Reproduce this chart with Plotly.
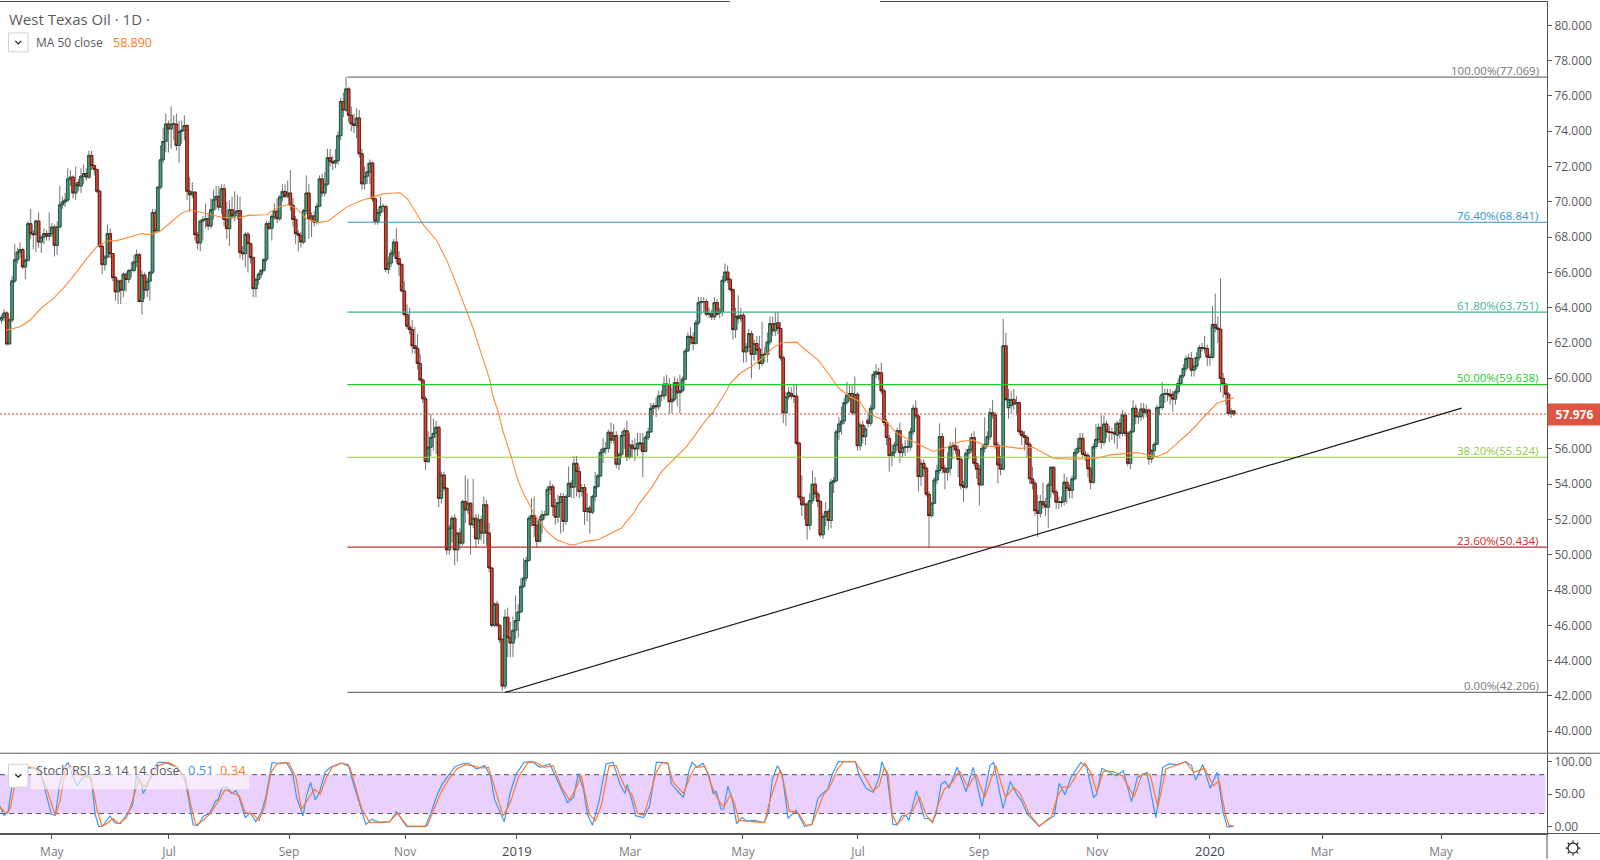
import math
import plotly.graph_objects as go

opens = [
63.30,63.45,63.70,61.95,63.30,65.52,66.72,67.15,67.29,66.31,
66.68,68.76,68.20,68.14,68.91,67.72,68.00,68.20,68.05,68.20,
68.57,67.53,68.57,69.83,69.99,70.10,71.30,71.40,70.50,71.10,
70.90,71.45,71.60,71.40,72.63,72.06,71.83,70.60,67.48,66.44,
66.87,68.20,67.07,65.70,64.90,65.52,65.00,65.90,65.60,66.10,
66.12,66.60,67.00,64.35,65.85,65.00,65.50,66.00,69.40,68.35,
70.83,72.38,73.42,74.41,74.13,74.41,74.41,73.20,73.99,74.06,
74.32,70.60,70.40,70.55,68.14,67.67,68.91,69.00,69.04,68.63,
69.55,70.12,70.31,69.70,70.74,69.00,68.48,69.55,69.20,69.42,
69.50,67.12,67.06,68.16,67.63,66.84,65.08,65.60,65.90,66.12,
66.73,68.76,68.50,69.17,69.47,69.04,70.27,70.59,70.32,70.50,
69.80,69.00,68.20,68.10,67.72,69.50,70.50,69.00,69.20,68.85,
69.75,71.30,70.50,71.00,72.50,72.28,72.20,72.34,73.75,75.68,
75.20,76.40,74.90,74.42,74.32,74.75,72.72,71.02,71.45,71.70,
72.20,70.17,68.90,69.40,69.74,69.74,66.17,66.53,67.10,67.72,
66.78,66.46,64.95,63.61,62.91,62.76,61.84,61.69,60.84,59.90,
58.84,55.28,56.09,56.65,56.88,57.22,53.20,54.52,53.77,50.28,
51.51,52.07,50.28,51.23,50.66,53.02,52.54,52.92,51.70,52.07,
50.90,51.98,51.23,52.83,51.23,49.25,46.00,47.21,46.00,45.19,
42.56,46.46,45.30,45.00,45.72,46.27,46.76,48.21,48.68,49.68,
52.07,52.23,51.66,50.76,51.98,52.26,52.27,53.71,53.86,52.73,
52.13,52.96,53.30,51.89,53.30,54.05,53.83,55.18,54.71,53.58,
53.81,52.45,52.64,52.41,53.30,53.86,54.47,55.81,56.00,56.03,
56.94,56.50,56.75,55.13,55.69,56.75,57.03,55.52,56.22,56.03,
56.00,56.25,56.32,55.85,56.65,56.97,58.30,58.45,58.39,59.00,
59.00,59.67,59.65,58.67,58.82,59.75,59.18,59.30,59.95,61.55,
62.38,62.30,61.97,63.14,64.29,64.33,64.35,63.63,63.65,63.48,
64.29,63.70,63.76,65.55,66.02,65.59,65.02,62.76,63.52,63.38,
63.57,61.50,61.78,62.53,61.35,61.97,61.66,60.84,61.35,61.35,
62.06,63.10,62.69,63.15,62.82,61.16,58.05,58.95,59.14,58.99,
58.99,56.32,53.26,52.83,52.87,51.66,53.07,54.00,53.45,53.02,
51.13,52.17,52.45,51.94,54.11,54.20,56.97,57.41,57.58,58.62,
59.05,59.14,58.05,59.09,56.18,57.35,56.69,57.63,57.45,58.30,
60.22,60.33,60.31,59.29,57.50,56.60,55.62,55.80,56.22,57.03,
55.79,56.09,56.10,56.10,56.97,58.30,57.86,54.43,55.18,54.90,
53.43,52.22,52.92,54.24,54.77,56.69,54.90,54.68,54.90,56.13,
56.17,55.94,55.41,53.92,53.83,55.75,55.97,56.64,55.18,54.85,
53.96,56.03,56.26,56.69,58.05,57.92,56.22,55.09,54.85,61.84,
58.33,58.45,58.80,58.54,58.62,56.97,56.75,56.65,56.26,54.30,
54.05,52.50,52.35,53.02,52.83,52.70,53.96,54.96,53.55,52.98,
53.00,53.02,54.11,53.77,53.64,54.30,55.80,56.03,56.60,55.69,
55.62,54.86,54.11,56.13,56.54,57.22,56.37,57.41,56.97,56.94,
56.94,56.78,57.45,56.88,57.92,56.88,55.18,56.97,58.30,57.82,
57.82,58.26,58.07,58.20,55.43,55.90,56.26,58.33,58.35,59.10,
59.14,59.09,59.09,58.82,59.24,59.71,60.14,60.56,61.12,61.12,
60.46,60.69,61.18,61.74,61.72,61.68,61.20,61.18,63.05,62.85,
62.78,59.99,59.67,59.10,58.00,58.15]
closes = [
63.45,63.70,61.95,63.30,65.52,66.72,67.15,67.29,66.31,66.68,
68.76,68.20,68.14,68.91,67.72,68.00,68.20,68.05,68.20,68.57,
67.53,68.57,69.83,69.99,70.10,71.30,71.40,70.50,71.00,70.90,
71.45,71.60,71.40,72.63,72.06,71.83,70.60,67.48,66.44,66.87,
68.20,67.07,65.70,64.90,65.52,65.00,65.90,65.60,66.10,66.12,
66.60,67.00,64.35,65.85,65.00,65.50,66.00,69.40,68.35,70.83,
72.38,73.42,74.41,74.13,74.41,74.41,73.20,73.99,74.06,74.32,
70.60,70.40,70.55,68.14,67.67,68.91,69.00,69.04,68.63,69.55,
70.12,70.31,69.70,70.74,69.00,68.48,69.55,69.20,69.42,69.50,
67.12,67.06,68.16,67.63,66.84,65.08,65.60,65.90,66.12,66.73,
68.76,68.50,69.17,69.47,69.04,70.27,70.59,70.32,70.50,69.80,
69.00,68.20,68.10,67.72,69.50,70.50,69.00,69.20,68.85,69.75,
71.30,70.50,71.00,72.50,72.28,72.20,72.34,73.75,75.68,75.20,
76.40,74.90,74.42,74.32,74.75,72.72,71.02,71.45,71.70,72.20,
70.17,68.90,69.40,69.74,69.74,66.17,66.53,67.10,67.72,66.78,
66.46,64.95,63.61,62.95,62.76,61.84,61.69,60.84,59.90,58.84,
55.28,56.09,56.65,56.88,57.22,53.20,54.52,53.77,50.28,51.51,
52.07,50.28,51.23,50.66,53.02,52.54,52.92,51.70,52.07,50.90,
51.98,51.23,52.83,51.23,49.25,46.00,47.21,46.00,45.19,42.56,
46.46,45.30,45.00,45.72,46.27,46.76,48.21,48.68,49.68,52.07,
52.23,51.66,50.76,51.98,52.26,52.27,53.71,53.86,52.73,52.13,
52.96,53.30,51.89,53.30,54.05,53.83,55.18,54.71,53.58,53.81,
52.45,52.64,52.41,53.30,53.86,54.47,55.81,56.00,56.03,56.94,
56.50,56.75,55.13,55.69,56.75,57.03,55.52,56.22,56.03,56.00,
56.32,56.35,55.85,56.65,56.97,58.30,58.45,58.39,59.00,59.02,
59.67,59.65,58.67,58.82,59.75,59.18,59.30,59.95,61.55,62.38,
62.30,61.97,63.14,64.29,64.35,64.35,63.63,63.65,63.48,64.29,
63.63,63.76,65.55,66.02,65.59,65.02,62.76,63.52,63.38,63.57,
61.50,61.78,62.53,61.35,61.97,61.59,60.84,61.35,61.37,62.06,
63.10,62.69,63.10,62.82,61.16,58.05,58.95,59.20,58.99,58.98,
56.32,53.26,52.83,52.87,51.66,53.07,54.00,53.45,53.02,51.13,
52.17,52.45,51.94,54.11,54.20,56.97,57.41,57.58,58.62,59.05,
59.14,58.05,59.09,56.18,57.35,56.69,57.13,57.45,58.30,60.22,
60.37,60.24,59.29,57.50,56.64,55.62,55.80,56.22,57.03,55.79,
56.09,56.10,56.12,56.97,58.30,57.86,54.43,55.18,54.90,53.43,
52.22,52.92,54.24,54.77,56.69,54.90,54.68,54.90,56.13,56.17,
55.94,55.41,53.92,53.83,55.75,55.97,56.64,55.18,54.85,53.96,
56.03,56.26,56.69,58.05,57.92,56.22,55.09,54.85,61.84,58.80,
58.80,58.80,58.54,58.62,56.97,56.75,56.65,56.26,54.30,54.05,
52.50,52.35,53.02,52.83,52.70,53.96,54.96,53.55,52.98,53.00,
52.96,54.11,53.77,53.64,54.30,55.80,56.03,56.60,55.69,55.62,
54.86,54.11,56.13,56.54,57.22,56.37,57.41,56.97,56.94,56.92,
56.84,57.45,56.88,57.92,56.88,55.18,56.97,58.30,57.82,57.84,
58.26,58.07,58.20,55.43,55.90,56.26,58.33,58.35,59.10,59.14,
59.10,58.99,58.82,59.24,59.71,60.14,60.56,61.12,61.14,60.46,
60.69,61.18,61.74,61.72,61.68,61.20,61.18,63.05,62.85,62.78,
59.99,59.67,59.10,58.00,58.15,57.98]
highs = [
63.6,63.9,63.8,63.4,65.8,67.6,67.4,67.7,67.4,66.8,
68.9,69.6,68.4,69.0,69.4,68.1,68.5,68.4,69.4,68.8,
68.7,68.9,70.9,70.3,70.5,71.9,71.8,71.5,72.0,71.3,
71.9,72.1,71.9,72.9,72.9,72.1,71.9,70.7,67.6,67.0,
68.7,68.5,67.1,65.8,65.6,65.6,66.0,66.0,66.2,66.6,
67.0,67.3,67.1,66.1,66.0,65.7,66.1,69.6,69.6,70.9,
73.2,74.2,75.0,74.6,75.4,74.9,75.0,74.6,74.6,74.9,
74.4,71.4,71.1,70.6,68.3,69.0,69.2,69.9,69.4,70.2,
70.7,70.9,70.9,71.0,71.0,70.0,70.1,70.3,70.6,70.4,
70.3,67.5,68.3,68.3,67.7,66.9,65.7,66.0,66.2,66.8,
68.9,68.9,69.3,69.9,70.2,70.4,71.0,71.0,71.2,71.8,
70.2,69.2,68.4,68.3,69.6,71.5,71.0,69.4,69.5,69.9,
71.5,71.6,71.7,73.0,73.0,72.6,73.0,74.0,75.9,76.2,
77.07,76.5,75.4,75.0,75.3,75.2,73.0,72.0,72.2,72.4,
72.3,70.2,69.6,70.3,69.9,69.8,66.9,67.3,67.9,68.5,
67.2,66.5,65.5,64.2,64.0,63.3,62.9,62.5,61.35,60.0,
59.0,57.0,58.0,57.7,57.6,57.3,54.7,54.7,53.8,51.7,
52.2,52.3,51.3,51.5,53.1,54.5,54.3,53.0,54.3,52.3,
52.3,52.2,53.3,53.1,51.8,49.3,47.3,47.4,46.1,45.3,
46.9,47.0,46.2,46.5,47.7,47.2,48.7,49.8,49.9,52.2,
53.2,53.3,52.1,52.2,52.5,52.5,53.9,54.2,54.0,53.2,
53.4,53.5,53.5,53.4,55.0,54.2,55.6,55.6,55.0,54.0,
54.0,53.5,52.8,53.4,54.7,54.6,56.0,56.6,56.4,57.1,
57.5,57.4,57.0,55.8,57.0,57.2,57.6,56.9,56.5,56.6,
56.9,56.9,56.9,56.8,57.2,58.6,58.6,58.9,59.3,59.3,
60.1,60.2,60.0,59.5,60.1,60.0,60.2,60.1,61.7,62.6,
62.9,62.6,63.3,64.6,64.6,64.6,64.5,64.0,63.9,64.6,
64.5,64.0,65.8,66.5,66.4,65.7,65.1,64.0,64.7,64.0,
63.7,62.0,62.8,62.7,62.2,62.4,62.4,63.2,61.8,62.6,
63.5,63.5,63.75,63.75,63.2,61.3,59.2,59.5,59.5,59.67,
59.67,56.4,54.5,53.3,53.0,53.5,54.77,54.4,53.6,53.1,
52.3,53.0,52.6,54.3,54.4,57.1,57.8,58.4,58.9,59.8,
59.6,59.6,60.1,59.2,57.5,57.6,57.3,58.0,58.5,60.4,
60.8,60.6,60.88,59.4,57.7,56.8,56.3,56.4,57.2,57.5,
56.3,56.5,56.5,57.2,58.5,58.76,58.0,55.4,55.4,55.0,
53.6,53.0,54.4,55.1,57.45,56.9,55.1,55.8,56.4,56.4,
57.2,56.2,55.6,54.2,56.0,56.2,56.9,57.0,55.6,55.1,
56.2,57.8,57.0,58.3,58.77,58.1,56.4,55.6,63.38,62.57,
59.4,59.3,59.4,59.0,58.7,57.1,57.0,56.8,56.4,55.0,
54.2,53.4,53.4,54.1,53.2,54.1,55.0,55.0,53.7,53.3,
53.3,54.6,54.4,54.0,54.5,56.0,56.6,56.9,56.9,55.9,
55.8,55.0,56.3,57.4,57.45,57.9,57.9,57.6,57.3,57.2,
57.45,57.6,57.7,58.2,58.1,57.0,57.1,58.76,58.5,58.1,
58.6,58.6,58.5,58.3,56.0,56.4,58.5,59.0,59.8,59.4,
59.4,59.4,59.3,59.4,60.0,60.2,60.8,61.3,61.4,61.5,
61.2,61.5,61.9,62.0,62.4,61.9,61.4,64.1,64.8,63.5,
65.65,60.3,59.7,59.2,58.3,58.2]
lows = [
63.1,63.2,61.85,61.9,63.2,65.4,66.5,66.8,66.2,65.6,
66.6,67.9,67.3,67.15,67.4,67.1,67.6,67.8,67.8,68.0,
66.9,67.0,68.5,69.6,69.7,70.0,70.9,70.2,70.1,70.6,
70.5,71.0,71.2,71.3,71.8,71.5,70.5,67.4,65.9,66.1,
66.8,66.8,65.5,64.4,64.2,64.2,64.6,64.9,65.4,65.7,
66.0,66.3,64.3,63.6,64.5,64.6,64.4,65.9,68.2,68.3,
70.7,72.2,72.8,72.8,73.0,73.5,72.9,72.2,73.3,73.5,
70.1,69.4,70.2,67.8,67.3,67.2,67.8,68.5,68.4,68.5,
69.0,69.6,69.5,69.3,68.6,67.9,67.5,69.0,68.9,69.0,
66.8,66.7,66.3,66.0,66.5,64.6,64.6,65.3,65.7,66.0,
66.6,68.4,67.8,69.0,68.8,68.9,70.0,70.2,70.2,69.5,
68.6,67.6,67.2,67.4,67.6,69.3,67.9,68.0,68.6,68.7,
69.7,70.3,70.3,70.9,72.0,71.8,71.9,72.1,73.5,74.8,
75.1,74.5,74.0,73.9,73.6,72.5,70.7,70.7,71.0,71.0,
70.0,68.7,68.7,69.2,69.4,66.0,65.9,66.3,66.9,66.5,
65.8,64.9,63.5,62.8,62.5,61.4,61.4,60.5,59.8,58.6,
54.8,55.2,55.6,55.9,55.7,52.7,52.9,53.6,50.0,50.0,
50.7,49.4,49.6,50.3,50.5,51.8,52.3,50.0,51.5,50.4,
50.6,50.8,50.6,50.5,49.0,45.9,45.9,45.9,45.0,42.3,
42.4,44.2,44.2,44.2,45.2,45.3,46.7,48.1,48.5,49.6,
51.6,51.0,50.4,50.7,51.2,52.0,52.2,53.4,52.2,51.7,
51.8,51.2,51.3,51.7,53.3,53.2,53.2,53.3,53.2,53.3,
51.7,51.9,51.2,52.3,53.0,53.8,54.4,55.2,55.7,55.8,
56.3,56.3,54.9,54.8,55.5,56.0,55.3,55.4,55.5,55.3,
55.6,55.9,54.4,55.8,56.5,56.9,57.9,57.8,58.2,58.7,
58.8,59.0,58.0,58.0,58.7,58.4,58.0,59.2,59.9,61.5,
61.9,61.6,61.9,63.0,63.6,63.7,63.5,63.4,63.3,63.3,
63.5,63.4,63.5,65.4,65.4,64.9,62.2,62.3,63.1,63.2,
60.9,60.9,61.5,60.0,61.0,61.3,60.5,60.7,60.9,60.9,
61.9,62.4,62.4,62.5,61.0,57.45,57.3,58.8,58.8,58.6,
56.2,53.1,52.2,52.0,50.85,51.4,52.9,53.2,52.7,51.0,
50.9,51.6,51.4,51.5,53.5,54.1,56.5,56.8,57.4,58.5,
58.7,57.9,57.9,55.9,55.9,56.3,56.2,57.2,57.3,58.2,
60.0,59.9,59.1,57.3,56.2,54.7,55.0,55.5,55.9,55.2,
55.5,55.6,55.8,55.9,56.8,57.7,53.58,53.9,54.4,53.3,
50.4,52.1,52.9,54.0,54.6,54.6,53.7,54.2,54.5,55.4,
55.7,54.4,53.7,53.0,53.7,55.4,55.8,55.0,54.3,52.8,
53.9,55.8,56.1,56.5,57.7,56.0,54.05,54.5,54.8,58.7,
57.7,58.0,58.2,57.9,56.8,56.2,55.9,55.5,54.0,53.7,
52.2,51.0,52.1,52.6,52.2,51.5,53.2,53.4,52.6,52.6,
52.7,52.8,52.9,53.2,53.2,54.2,55.7,55.8,55.5,55.3,
54.4,53.7,54.0,56.0,56.3,56.0,56.2,56.6,56.4,56.5,
56.3,56.0,56.6,56.7,56.7,55.0,54.85,56.9,57.4,57.4,
57.6,57.7,57.8,55.1,55.2,55.5,56.2,57.9,58.2,58.6,
58.7,58.5,58.1,58.5,59.1,59.6,60.0,60.4,60.6,60.1,
60.1,60.5,61.0,61.5,61.4,60.7,60.7,61.1,62.6,62.0,
59.2,58.9,58.5,57.9,57.75,57.85]

ma_bar = [1.9,7,10.8,15.2,18.9,23.3,28.4,32.1,35.9,39.7,43.5,47.9,52.9,56,59.8,63.6,68,71.1,74.9,79.3,83.7,86.8,90,93.1,100,104.5,108.2,111.4,115.1,119.6,123.3,130.2,135.9,140.9,144.1,150.4,153.4,159.2,164.2,168,171.1,174.9,178,181.2,184.3,185.3,187.4,189.3,192.5,194.4,196.9,201.3,205.7,209.5,214.5,216.4,220.2,225.2,229,234,235.9,239,240.3,244.7,249.1,254.1,258.5,265.4,268.6,273,274.9,278.6,283.7,287.5,291.2,294.4,300,303.8,308.2,312,315.8,320.2,323.9,326.4,330.2,334,337.8,342.8,347.8,351.6,356.6,361.7,366.7,371.7,376.8,384.3,389.3,393.7,396.9,404.4,413.2,418.3,423.9,428.3,435.9,439.7,448.5,456,458.6,462.3,465]
ma_val = [62.73,62.92,63.29,64.01,64.43,65.09,66.03,66.78,67.44,67.78,67.80,67.97,68.2,68.14,68.33,68.8,69.36,69.55,69.44,69.27,69.1,69.1,69.1,69.23,69.27,69.7,69.85,69.61,69.04,68.82,68.91,69.7,70.08,70.31,70.46,70.51,70.13,68.69,67.81,66.68,65.55,64.04,62.82,61.31,59.9,59.05,58.11,56.97,55.47,54.43,53.49,52.26,51.32,50.85,50.57,50.57,50.76,50.85,51.13,51.51,51.89,52.45,52.83,53.68,54.71,55.47,56.13,57.54,58.11,59.14,59.67,60.27,60.75,61.18,61.74,62.01,62.05,61.56,61.03,60.27,59.46,58.95,58.67,58.11,57.79,57.54,56.88,56.5,56.13,55.85,56.09,56.41,56.5,56.13,56.17,56.03,56.09,55.75,55.47,55.41,55.47,55.66,55.75,55.79,55.56,55.79,56.97,58.2,58.58,58.77,58.89]

k_bar = [-0.6,0.9,2.4,3.9,5.4,8.4,14.4,17.3,18.8,20.3,21.8,23.3,25.1,27,28.5,30.8,33,34.1,35.3,36.7,38.2,40.9,42.7,44.9,47.2,49.4,50.9,52.4,53.5,55,56.9,59.1,62.1,65.8,68.8,70.3,72.3,74.1,76.3,78.5,80.8,81.8,83.3,85.3,86.7,88.5,89.7,92,93.8,96,98,99.7,102.1,103.9,107.6,109.9,111.4,113.8,115.1,116.6,118.4,120,122.1,124.1,127.8,130.8,133,134.5,137.5,139.7,142.7,146.4,149.1,152.9,159.9,162.1,164.4,166.3,168.1,171.1,174.4,176.3,179.3,182.3,184.5,186,189.7,192,194.2,197.2,200.2,203.2,206.9,210.6,213.6,215.9,217.6,219.6,221.1,223,225.5,228.1,230.8,233.4,235.2,236.1,237.6,239.4,242.4,244.6,247.1,249.8,251.6,252.8,255,257.3,259.5,260.6,262.5,264.7,267,268.5,269.7,271.5,272.5,274.1,275.9,277.4,279.4,281.2,284.1,287.9,289.4,290.9,292.8,294.6,296.8,299.8,303.1,305.8,308,309.5,311.8,313.5,315.8,322.2,323.7,326.2,328.9,331.2,332.2,334.1,336.4,337.9,339.7,341.2,342.4,345.3,348.3,349.8,351.3,352.8,354.6,356.1,357.6,360.6,364,366.7,370,373,374.4,377.9,380.7,382.7,384.9,387.1,391.6,395.3,397.3,399.1,401.3,403.6,407.3,409.5,412.1,413.3,415.2,417.3,420.7,423.3,426.4,428.6,432.2,435.6,438.2,440.6,443.8,446.8,449.1,450.6,453.3,456.1,458.8,461,462.5,464,465]
k_val = [31.9,17.4,21.5,60.3,88.8,91.4,88.8,44.8,19,17.4,60.3,88.8,99,75.8,62.9,75.8,81,65.5,19,0,0.8,16.4,6,4.5,19,31.9,78.4,70.7,51,62.9,86.2,99,99,91.4,78.4,50,2.4,1.9,16.4,20,39.6,42.2,60.3,60.3,51,55.1,44.8,13.8,21.5,7.5,21.5,44.8,99,97.6,98.6,81,44.8,16.4,47.4,68.1,41.2,52.6,83.6,91.4,97.6,95.5,62.9,42.2,3.4,11.2,6,7,22.6,0,0,21.5,49,65.5,75.8,92.4,97.6,97.6,88.8,94,78.4,42.2,7.5,52.6,81,99,100,91.4,96.5,62.9,37,44.8,82,57.7,19,1.9,39.6,96.5,99,65.5,51,64.5,44.8,16.4,13.8,31.9,99,99,96.5,65.5,55.1,44.8,86.2,99,91.4,97.6,78.4,51,54.1,26.7,26.7,61.9,39.6,4.5,13.8,8.6,9.6,6,21.5,73.3,94,81,12.7,25.2,0,3.4,42.2,50,57.7,81,100,100,78.4,59.3,52.6,75.8,100,81,3.4,2.4,16.4,17.4,9.6,55.1,12.7,12.2,6,21.5,65.5,69.6,59.3,91.4,54.1,91.4,30.8,94,99,27.7,69.6,52.6,39.6,19,0,12.7,16.4,66.5,49,75.8,99,91.4,44.8,50,89.8,85.2,78.4,86.2,38.1,75.8,83.6,13.8,91.4,96.5,95.5,100,94,71.7,95.5,59.3,83.6,21.5,0,0,0.51]
d_bar = [-0.6,1.7,3.2,4.6,6.1,8.4,12.1,15.1,17.3,20.3,22.1,24,26,28.5,31.5,33.8,36,37.9,39.7,42,44.2,47.2,49.4,51.7,53.9,56.1,59.1,62.9,66.6,69.6,71.1,73.3,75.5,78.5,81.5,84.5,87.5,89.7,92,95,97.2,99.4,101.7,103.9,108.4,111.1,113.2,115.6,118.1,120.3,122.6,124.8,128.5,131.5,133.8,136,139,142.7,146.4,149.4,153.2,160.6,163.6,165.8,168.8,171.8,174.8,177.8,180.8,183.8,185.7,189.3,192,195,198.7,201.7,204.7,208.1,211.4,214.4,216.6,218.8,221.8,224.1,226.3,229.3,232,233.4,235.6,237.9,240.1,242.4,244.6,247.1,249.1,251.3,253.5,257.3,260,261.8,265.5,267.7,270,272.5,275.2,276.7,278.2,281.2,284.9,287.9,290.1,292.4,293.8,295.3,297.3,300.6,303.5,305.8,308,310.3,312.5,315.5,317.7,322.2,325.2,328.9,331.2,333.1,334.6,336.1,337.9,340.9,343.8,346.4,349.1,351.3,353.5,355.8,358.8,361.5,364.7,367.7,371,375.2,378.9,381.9,384.4,387.9,391.6,396.1,398.3,400.6,402.8,405.8,408.8,411,413.3,415.8,419.2,423,427.4,430.4,433.4,436.4,439.4,443.8,446.8,449.8,454,457.3,459.5,461.8,463.2,465]
d_val = [30.3,20.5,26.7,55.1,86.2,91.4,91.4,78.4,55.1,17.4,39.6,86.2,94,81,78.4,75.8,26.7,0.8,4.5,12.7,4.5,13.8,39.6,70.7,61.4,73.3,94,99,91.4,73.3,39.6,2.4,7.6,19,37,57.7,51,47.4,21.5,19,9.6,31.9,83.6,96.5,98.6,75.8,26.7,42.2,57.7,50,75.8,91.4,98.1,91.4,57.7,26.7,6,7,7.5,20.5,0.8,0.8,31.9,52.6,73.3,88.8,95.5,94,90.3,91.4,65.5,16.4,37,75.8,99,99,91.4,94,60.3,40.7,57.7,78.4,19,8.6,31.9,94,94,78.4,57.7,50,20,17.4,47.4,83.6,97.6,99,68.1,51,78.4,91.4,92.9,65.5,44.8,29.3,50,34.5,9.6,8.6,7.6,6,42.2,70.7,87.2,65.5,24.1,21.5,2.4,2.4,26.7,50,60.3,88.8,100,100,81,55.1,62.9,91.4,81,19,3.4,16.4,24.1,45.8,16.4,7,34.5,57.7,68.1,86.2,60.3,81,44.8,94,44.8,60.3,51,19,0.8,13.8,44.8,61.4,60.3,81,97.6,83.6,52.6,85.2,85.2,78.4,45.8,81,80,30.3,88.8,95.5,100,83.6,89.8,62.9,70.7,19,2.4,0.34]

fib_pct = ["100.00%", "76.40%", "61.80%", "50.00%", "38.20%", "23.60%", "0.00%"]
fib_val = [77.069, 68.841, 63.751, 59.638, 55.524, 50.434, 42.206]
fib_col = ["#787878", "#3a93c4", "#3cb48f", "#22cc22", "#93c93c", "#c22f2f", "#787878"]
fib_start_bar = 130.5
trend_bar = [190, 551]
trend_val = [42.2, 58.31]
last_price = 57.976
month_bar = [19, 63.2, 108.5, 152.3, 194.5, 237.2, 279.8, 323.2, 368.9, 413.4, 456, 498.3, 543.2]
month_lab = ["May", "Jul", "Sep", "Nov", "2019", "Mar", "May", "Jul", "Sep", "Nov", "2020", "Mar", "May"]
price_ticks = list(range(40, 82, 2))

W, H = 1600, 860
AX_X = 1547
XR = [-0.566, 583.2]
FONT = "Open Sans, Noto Sans, sans-serif"
TXT = "#5a5a5e"
def px(x): return x / W
def py(y): return 1 - y / H

bars = list(range(len(closes)))
fig = go.Figure()

fig.add_shape(type="rect", xref="x domain", yref="y2", x0=0, x1=0.999, y0=20, y1=80,
              fillcolor="#e9d0fd", line_width=0, layer="below")

# wicks, then bodies
fig.add_trace(go.Candlestick(x=bars, open=opens, high=highs, low=lows, close=closes,
    xaxis="x2", yaxis="y", whiskerwidth=0, hoverinfo="skip", showlegend=False,
    increasing=dict(line=dict(color="#737373", width=1), fillcolor="#737373"),
    decreasing=dict(line=dict(color="#737373", width=1), fillcolor="#737373")))
body_hi = [max(o, c) for o, c in zip(opens, closes)]
body_lo = [min(o, c) for o, c in zip(opens, closes)]
fig.add_trace(go.Candlestick(x=bars, open=opens, high=body_hi, low=body_lo, close=closes,
    xaxis="x2", yaxis="y", whiskerwidth=0, hoverinfo="skip", showlegend=False,
    increasing=dict(line=dict(color="#1f4a37", width=0.8), fillcolor="#4c9f78"),
    decreasing=dict(line=dict(color="#571510", width=0.8), fillcolor="#d8452f")))

fig.add_trace(go.Scatter(x=ma_bar, y=ma_val, mode="lines", xaxis="x2", yaxis="y",
    line=dict(color="#ff8a3a", width=1.1), hoverinfo="skip", showlegend=False))

for i, (v, c) in enumerate(zip(fib_val, fib_col)):
    fig.add_trace(go.Scatter(x=[fib_start_bar, XR[1]], y=[v, v], mode="lines", xaxis="x2", yaxis="y",
        line=dict(color=c, width=1.2), hoverinfo="skip", showlegend=False))
    fig.add_annotation(xref="paper", yref="y", x=px(1541), y=v, yshift=7, xanchor="right", yanchor="middle",
        text=f"{fib_pct[i]}({v:.3f})", showarrow=False, font=dict(family=FONT, size=11.5, color=c))

fig.add_trace(go.Scatter(x=XR, y=[last_price, last_price], mode="lines", xaxis="x2", yaxis="y",
    line=dict(color="#c8473a", width=1, dash="2px,2px"), hoverinfo="skip", showlegend=False))
fig.add_trace(go.Scatter(x=trend_bar, y=trend_val, mode="lines", xaxis="x2", yaxis="y",
    line=dict(color="#1a1a1a", width=1.2), hoverinfo="skip", showlegend=False))

fig.add_trace(go.Scatter(x=k_bar, y=k_val, mode="lines", xaxis="x", yaxis="y2",
    line=dict(color="#3d97f5", width=1.2), hoverinfo="skip", showlegend=False))
fig.add_trace(go.Scatter(x=d_bar, y=d_val, mode="lines", xaxis="x", yaxis="y2",
    line=dict(color="#ff7a2b", width=1.2), hoverinfo="skip", showlegend=False))

for lv in (20, 80):
    fig.add_shape(type="line", xref="x domain", yref="y2", x0=0, x1=0.999, y0=lv, y1=lv,
                  line=dict(color="#5a5060", width=1, dash="5px,4px"), layer="below")

# frame lines
FRAME = dict(color="#555", width=1)
fig.add_shape(type="line", xref="paper", yref="paper", x0=0, x1=px(730), y0=py(0.5), y1=py(0.5), line=dict(color="#44474d", width=1))
fig.add_shape(type="line", xref="paper", yref="paper", x0=px(880), x1=px(AX_X), y0=py(0.5), y1=py(0.5), line=dict(color="#44474d", width=1))
fig.add_shape(type="line", xref="paper", yref="paper", x0=0, x1=1, y0=py(754), y1=py(754), line=FRAME)
fig.add_shape(type="line", xref="paper", yref="paper", x0=0, x1=1, y0=py(834.5), y1=py(834.5), line=FRAME)
fig.add_shape(type="line", xref="paper", yref="paper", x0=px(AX_X), x1=px(AX_X), y0=py(834), y1=0, line=FRAME)

# legend boxes
def chevron_box(x0, y0, x1, y1):
    fig.add_shape(type="rect", xref="paper", yref="paper", x0=px(x0), x1=px(x1), y0=py(y0), y1=py(y1),
                  line=dict(color="#d0d0d0", width=1), fillcolor="white", layer="above")
    cx, cy = (x0 + x1) / 2, (y0 + y1) / 2
    fig.add_shape(type="path", xref="paper", yref="paper",
                  path=f"M {px(cx-3)} {py(cy-1.5)} L {px(cx)} {py(cy+1.5)} L {px(cx+3)} {py(cy-1.5)}",
                  line=dict(color="#222", width=1.3), layer="above")
chevron_box(8.5, 32, 28, 51)
chevron_box(8.5, 765, 28, 788)
fig.add_shape(type="rect", xref="paper", yref="paper", x0=px(31), x1=px(249), y0=py(767), y1=py(790),
              line_width=0, fillcolor="rgba(255,255,255,0.6)", layer="above")

# settings icon at the corner of the axes
GX, GY = 1573, 849
fig.add_shape(type="circle", xref="paper", yref="paper", x0=px(GX-5), x1=px(GX+5), y0=py(GY-5), y1=py(GY+5),
              line=dict(color="#222", width=1.2), layer="above")
spokes = ""
for a in range(8):
    dx, dy = math.cos(a * math.pi / 4), math.sin(a * math.pi / 4)
    spokes += f"M {px(GX+5*dx)} {py(GY+5*dy)} L {px(GX+7.5*dx)} {py(GY+7.5*dy)} "
fig.add_shape(type="path", xref="paper", yref="paper", path=spokes, line=dict(color="#222", width=1.2), layer="above")

def note(x, y, text, size, color, anchor="left", **kw):
    fig.add_annotation(xref="paper", yref="paper", x=px(x), y=py(y), text=text, showarrow=False,
                       xanchor=anchor, yanchor="middle", font=dict(family=FONT, size=size, color=color), **kw)
note(7, 18, "West Texas Oil · 1D ·", 15, TXT)
note(34, 41.5, "MA 50 close", 12, TXT)
note(111, 41.5, "58.890", 12.5, "#ff7a1a")
note(34, 771, "Stoch RSI 3 3 14 14 close", 12.6, TXT)
note(186, 771, "0.51", 13, "#3d97f5")
note(218, 771, "0.34", 13, "#ff7a2b")

fig.add_annotation(xref="paper", yref="y", x=px(AX_X), y=last_price, xanchor="left", yanchor="middle",
    text=f"<b>{last_price:.3f}</b>", showarrow=False, width=51, height=19, bgcolor="#dc5542",
    font=dict(family=FONT, size=12, color="white"))

axis_common = dict(showgrid=False, zeroline=False, showline=True, linecolor="#555", linewidth=1,
                   ticks="outside", ticklen=4, tickcolor="#555",
                   tickfont=dict(family=FONT, size=12, color=TXT))
def tick_text(t):
    if t.isdigit():
        return f'<span style="color:#44444a;font-size:13px">{t}</span>'
    return f'<span style="color:#7a7a80">{t}</span>'
fig.update_layout(
    width=W, height=H, margin=dict(l=0, r=0, t=0, b=0),
    paper_bgcolor="white", plot_bgcolor="white", showlegend=False,
    boxmode="overlay", boxgap=0.02, boxgroupgap=0, hovermode=False,
    xaxis=dict(domain=[0, AX_X / W], range=XR, anchor="y2", rangeslider=dict(visible=False),
               tickmode="array", tickvals=month_bar, ticktext=[tick_text(t) for t in month_lab],
               ticklabelstandoff=3, **axis_common),
    xaxis2=dict(domain=[0, AX_X / W], range=XR, anchor="y", visible=False, rangeslider=dict(visible=False)),
    yaxis=dict(domain=[py(753.5), 1], range=[38.78, 81.38], side="right", anchor="x2",
               tickmode="array", tickvals=price_ticks, ticktext=[f"{t:.3f}" for t in price_ticks], **axis_common),
    yaxis2=dict(domain=[py(834.5), py(755)], range=[-10.8, 111.5], side="right", anchor="x",
                tickmode="array", tickvals=[0, 50, 100], ticktext=["0.00", "50.00", "100.00"], **axis_common),
)

fig.write_html("out.html", config=dict(displayModeBar=False),
               post_script="document.body.style.margin='0';")
